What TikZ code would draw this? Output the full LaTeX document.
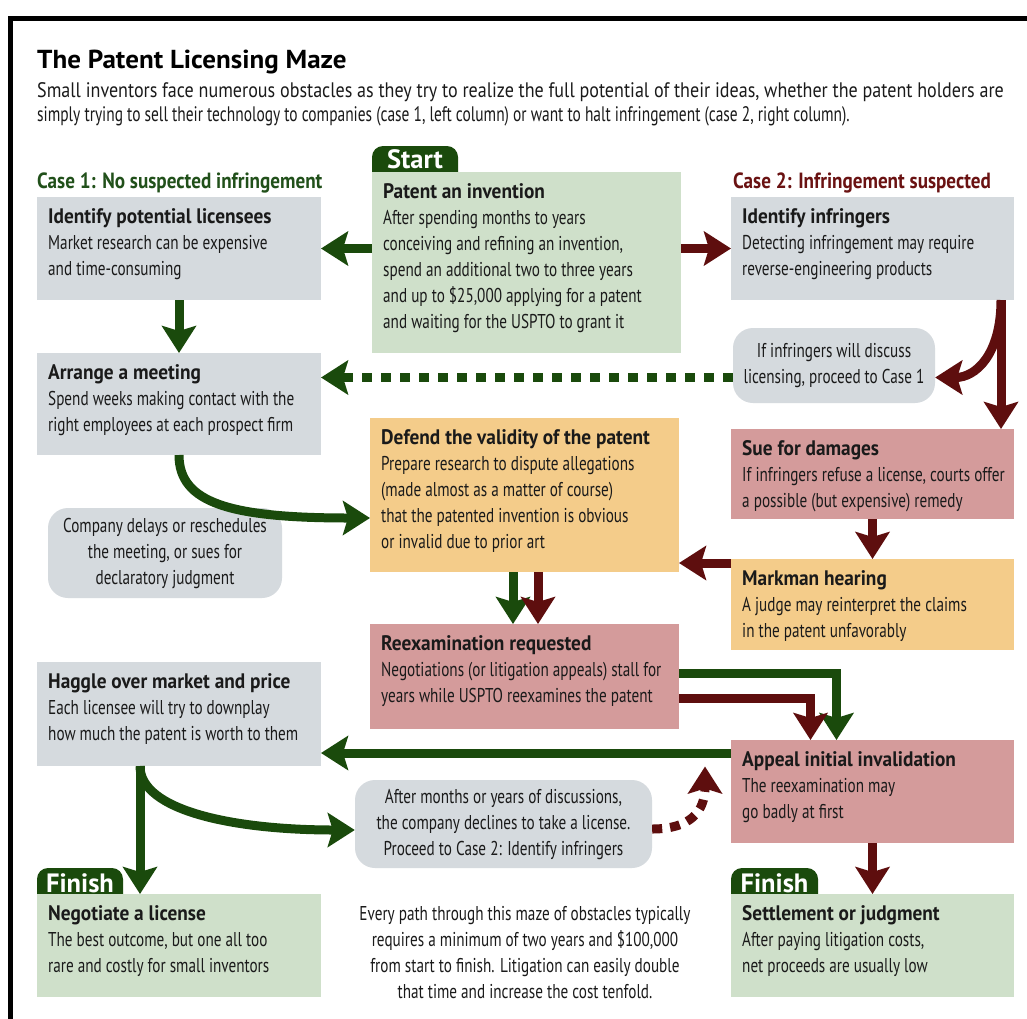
\documentclass[tikz,border=0pt]{standalone}
\usepackage{fontspec}
\setmainfont{PT Sans}[FakeStretch=0.76]
\newfontfamily\titlefont{PT Sans}[FakeStretch=1.04]
\newfontfamily\subfont{PT Sans}[FakeStretch=0.735]
\newfontfamily\subfontw{PT Sans}[FakeStretch=0.86]
\newfontfamily\headfont{PT Sans}[FakeStretch=0.92]
\newfontfamily\casefont{PT Sans}[FakeStretch=0.87]
\newfontfamily\tabfont{PT Sans}[FakeStretch=1.0]
\usetikzlibrary{arrows.meta,calc}
\definecolor{grayc}{HTML}{D5DADE}
\definecolor{greenc}{HTML}{CFE0CA}
\definecolor{yellowc}{HTML}{F4CC8A}
\definecolor{pinkc}{HTML}{D49B9B}
\definecolor{dgreen}{HTML}{1A4A0C}
\definecolor{dred}{HTML}{5E0E0E}
\definecolor{caseg}{HTML}{21501A}
\definecolor{caser}{HTML}{6A1212}
\definecolor{textc}{HTML}{1A1A1A}
\newcommand\bodyfont{\fontsize{20}{26}\selectfont}
\newcommand\hd[1]{{\headfont\bfseries\fontsize{21}{26}\selectfont #1}}
\tikzset{
  box/.style={draw=none, inner sep=0pt, outer sep=0pt, anchor=north west},
  txt/.style={anchor=north west, align=left, inner sep=11pt, font=\bodyfont, text=textc},
  bubble/.style={fill=grayc, rounded corners=20pt, align=center, font=\bodyfont, inner sep=0pt, text=textc},
  tabtext/.style={anchor=base, text=white, font=\tabfont\bfseries\fontsize{26.5}{30}\selectfont, inner sep=0pt},
  casetext/.style={anchor=base west, inner sep=0pt, font=\casefont\bfseries\fontsize{22}{26}\selectfont},
  subtext/.style={anchor=base west, inner sep=0pt, text=textc},
  ga/.style={draw=dgreen, line width=9pt, -{Stealth[length=27pt,width=34pt,inset=5pt]}},
  ra/.style={draw=dred, line width=9pt, -{Stealth[length=27pt,width=34pt,inset=5pt]}},
}
\begin{document}
\begin{tikzpicture}[x=1pt,y=-1pt]
\useasboundingbox[fill=white] (0,0) rectangle (1027,1018);
% frame
\draw[line width=5.5pt] (10.5,1030) -- (10.5,18.5) -- (1040,18.5);
% titles
\node[anchor=base west, inner sep=0pt, font=\titlefont\bfseries\fontsize{26}{30}\selectfont] (title) at (37,68) {The Patent Licensing Maze};
\node[subtext, font=\subfontw\fontsize{21}{24}\selectfont] (sub1) at (37,97) {Small inventors face numerous obstacles as they try to realize the full potential of their ideas, whether the patent holders are};
\node[subtext, font=\subfont\fontsize{21}{24}\selectfont] (sub2) at (37,121) {simply trying to sell their technology to companies (case 1, left column) or want to halt infringement (case 2, right column).};
\node[casetext, text=caseg] (case1) at (37,188) {Case 1: No suspected infringement};
\node[casetext, text=caser] (case2) at (733,188) {Case 2: Infringement suspected};
% tabs
\fill[dgreen, rounded corners=11pt] (372,146) rectangle (458,190);
\fill[dgreen, rounded corners=11pt] (37,868) rectangle (123,910);
\fill[dgreen, rounded corners=11pt] (731,868) rectangle (818,910);
\node[tabtext] (starttab) at (415,168) {Start};
% boxes
\node[box, fill=grayc, minimum width=284, minimum height=103] (lic) at (37,197) {};
\node[box, fill=greenc, minimum width=309, minimum height=181] (start) at (372,172) {};
\node[box, fill=grayc, minimum width=283, minimum height=103] (infr) at (731,197) {};
\node[box, fill=grayc, minimum width=284, minimum height=102] (arrange) at (37,353) {};
\node[box, fill=yellowc, minimum width=309, minimum height=154] (defend) at (370,418) {};
\node[box, fill=pinkc, minimum width=283, minimum height=90] (sue) at (731,429) {};
\node[box, fill=yellowc, minimum width=283, minimum height=91] (markman) at (731,559) {};
\node[box, fill=pinkc, minimum width=309, minimum height=105] (reexam) at (370,624) {};
\node[box, fill=grayc, minimum width=284, minimum height=104] (haggle) at (37,662) {};
\node[box, fill=pinkc, minimum width=283, minimum height=103] (appeal) at (731,740) {};
\node[box, fill=greenc, minimum width=284, minimum height=103] (negot) at (37,894) {};
\node[box, fill=greenc, minimum width=283, minimum height=103] (settle) at (731,894) {};
\node[tabtext] (fin1) at (80,892) {Finish};
\node[tabtext] (fin2) at (774.5,892) {Finish};
% box texts
\node[txt] (licT) at (lic.north west) {\hd{Identify potential licensees}\\Market research can be expensive\\and time-consuming};
\node[txt] (startT) at (start.north west) {\hd{Patent an invention}\\After spending months to years\\conceiving and refining an invention,\\spend an additional two to three years\\and up to \$25,000 applying for a patent\\and waiting for the USPTO to grant it};
\node[txt] (infrT) at (infr.north west) {\hd{Identify infringers}\\Detecting infringement may require\\reverse-engineering products};
\node[txt] (arrangeT) at (arrange.north west) {\hd{Arrange a meeting}\\Spend weeks making contact with the\\right employees at each prospect firm};
\node[txt] (defendT) at (defend.north west) {\hd{Defend the validity of the patent}\\Prepare research to dispute allegations\\(made almost as a matter of course)\\that the patented invention is obvious\\or invalid due to prior art};
\node[txt] (sueT) at (sue.north west) {\hd{Sue for damages}\\If infringers refuse a license, courts offer\\a possible (but expensive) remedy};
\node[txt] (markmanT) at (markman.north west) {\hd{Markman hearing}\\A judge may reinterpret the claims\\in the patent unfavorably};
\node[txt] (reexamT) at (reexam.north west) {\hd{Reexamination requested}\\Negotiations (or litigation appeals) stall for\\years while USPTO reexamines the patent};
\node[txt] (haggleT) at (haggle.north west) {\hd{Haggle over market and price}\\Each licensee will try to downplay\\how much the patent is worth to them};
\node[txt] (appealT) at (appeal.north west) {\hd{Appeal initial invalidation}\\The reexamination may\\go badly at first};
\node[txt] (negotT) at (negot.north west) {\hd{Negotiate a license}\\The best outcome, but one all too\\rare and costly for small inventors};
\node[txt] (settleT) at (settle.north west) {\hd{Settlement or judgment}\\After paying litigation costs,\\net proceeds are usually low};
% bubbles
\node[bubble, minimum width=202, minimum height=75] (ifinf) at (834,365.5) {If infringers will discuss\\licensing, proceed to Case 1};
\node[bubble, minimum width=234, minimum height=90] (delay) at (165,553) {Company delays or reschedules\\the meeting, or sues for\\declaratory judgment};
\node[bubble, minimum width=297, minimum height=88] (after) at (503.5,824) {After months or years of discussions,\\the company declines to take a license.\\Proceed to Case 2: Identify infringers};
% footer
\node[align=center, inner sep=0pt, font=\bodyfont, text=textc] (foot) at (525,952.5) {Every path through this maze of obstacles typically\\requires a minimum of two years and \$100,000\\from start to finish. Litigation can easily double\\that time and increase the cost tenfold.};
% connectors
\draw[ga] (start.west |- lic.east) -- (lic.east);
\draw[ra] (start.east |- infr.west) -- (infr.west);
\draw[ga] (lic.south) -- (arrange.north);
\coordinate (d0) at ($(ifinf.west)+(0,12)$);
\draw[ga, dash pattern=on 10pt off 9pt] (d0) -- (d0 -| arrange.east);
\coordinate (r0) at ($(infr.south east)+(-13,0)$);
\draw[ra] (r0) .. controls ($(r0)+(0,55)$) and ($(ifinf.east)+(40,12)$) .. ($(ifinf.east)+(0,12)$);
\draw[ra] (r0) -- (r0 |- sue.north);
\draw[ga] (arrange.south) .. controls ($(arrange.south)+(0,48)$) and ($(defend.west)+(-140,23)$) .. ($(defend.west)+(0,23)$);
\draw[ra] (sue.south) -- (markman.north);
\coordinate (m0) at ($(markman.north west)+(0,4)$);
\draw[ra] (m0) -- (m0 -| defend.east);
\draw[ga] ($(defend.south)+(-11.5,0)$) -- ($(reexam.north)+(-11.5,0)$);
\draw[ra] ($(defend.south)+(13.5,0)$) -- ($(reexam.north)+(13.5,0)$);
\coordinate (g0) at ($(reexam.north east)+(0,49)$);
\coordinate (g1) at ($(appeal.north)+(-36,0)$);
\draw[ga] (g0) -- (g0 -| g1) -- (g1);
\coordinate (q0) at ($(reexam.north east)+(0,74)$);
\coordinate (q1) at ($(appeal.north)+(-62,0)$);
\draw[ra] (q0) -- (q0 -| q1) -- (q1);
\coordinate (a0) at ($(appeal.north west)+(0,13)$);
\draw[ga] (a0) -- (a0 -| haggle.east);
\coordinate (h0) at ($(haggle.south)+(-39,0)$);
\draw[ga] (h0) .. controls ($(h0)+(0,45)$) and ($(after.west)+(-120,6)$) .. ($(after.west)+(0,6)$);
\draw[ga] (h0) -- (h0 |- negot.north);
\draw[ra, dash pattern=on 10pt off 8pt] ($(after.east)+(0,5)$) .. controls ($(after.east)+(38,5)$) and ($(appeal.west)+(-26,20)$) .. ($(appeal.west)+(-26,-25)$);
\draw[ra] (appeal.south) -- (settle.north);
\end{tikzpicture}
\end{document}
